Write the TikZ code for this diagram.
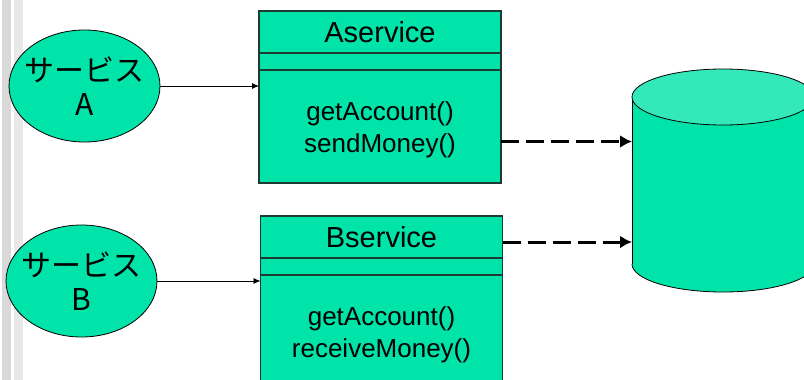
\documentclass[tikz,border=0pt]{standalone}
\usepackage{fontspec}
\setmainfont{Liberation Sans}
\newfontfamily\jpfont{Noto Sans CJK JP}
\usepackage{tikz}
\usetikzlibrary{arrows.meta, positioning, shapes.geometric}
\usepackage{xcolor}
\definecolor{mint}{HTML}{00E3A9}
\definecolor{minttop}{HTML}{33E9BA}
\definecolor{edge}{HTML}{1E3B33}
\definecolor{barA}{HTML}{D9D9D9}
\definecolor{barB}{HTML}{E8E8E8}

\begin{document}
\begin{tikzpicture}[%
        x=1pt, y=-1pt,              % pixel-like grid, y runs down
        >={Latex[length=7pt,width=6pt]},
        node distance=0pt,          % class compartments are stacked
    ]
    \tikzset{
        svc/.style={draw, ellipse, fill=mint, line width=0.8pt,
            inner xsep=-10pt, inner ysep=0pt,
            minimum width=151pt, minimum height=112pt, align=center,
            font=\jpfont\fontsize{30}{34}\selectfont},
        part/.style={draw=edge, fill=mint, line width=1.5pt, inner sep=0pt,
            outer sep=0pt, minimum width=242pt, align=center},
        head/.style={part, minimum height=42pt, font=\fontsize{29}{32}\selectfont},
        attr/.style={part, minimum height=17pt},
        ops/.style={part, minimum height=113pt, font=\fontsize{26}{32}\selectfont},
        % -------------------------------------------------
        call/.style={->, draw, line width=0.8pt},
        dep/.style={-{Latex[length=12pt,width=13pt]}, draw, line width=3pt,
            dash pattern=on 18pt off 7pt},
    }
    \clip (0,0) rectangle (804,380);
    \fill[barA] (2,0) rectangle (11,380);
    \fill[barB] (14,0) rectangle (23,380);
    %%% Services
    \node [svc] (svcA) at (84.5,86) {サービス\\A};
    \node [svc] (svcB) at (81.5,281) {サービス\\B};
    %%% Classes
    \node [head] (Ahead) at (380,32) {Aservice};
    \node [attr, below=of Ahead] (Aattr) {};
    \node [ops, below=of Aattr] (Aops) {\rule{0pt}{25pt}getAccount()\\sendMoney()};
    \node [head] (Bhead) at (381.5,237) {Bservice};
    \node [attr, below=of Bhead] (Battr) {};
    \node [ops, below=of Battr, minimum height=120pt] (Bops) {getAccount()\\receiveMoney()};
    %%% Database
    \fill[mint] (632,97) rectangle (814,264);
    \fill[mint] (723,264) ellipse [x radius=91, y radius=28];
    \draw[line width=0.8pt] (632,97) -- (632,264) (814,97) -- (814,264);
    \begin{scope}
        \clip (620,264) rectangle (830,300);
        \draw[line width=0.8pt] (723,264) ellipse [x radius=91, y radius=28];
    \end{scope}
    \draw[line width=0.8pt, fill=minttop] (723,97) ellipse [x radius=91, y radius=28];
    \coordinate (db) at (632,180);
    %%% Connectors
    \draw [call] (svcA.east) -- (svcA.east -| Aops.west);
    \draw [call] (svcB.east) -- (svcB.east -| Bops.west);
    \coordinate (Aout) at ([yshift=-15pt]Aops.east);
    \coordinate (Bout) at ([yshift=-5pt]Bhead.east);
    \draw [dep] (Aout) -- (Aout -| db);
    \draw [dep] (Bout) -- (Bout -| db);
\end{tikzpicture}
\end{document}
